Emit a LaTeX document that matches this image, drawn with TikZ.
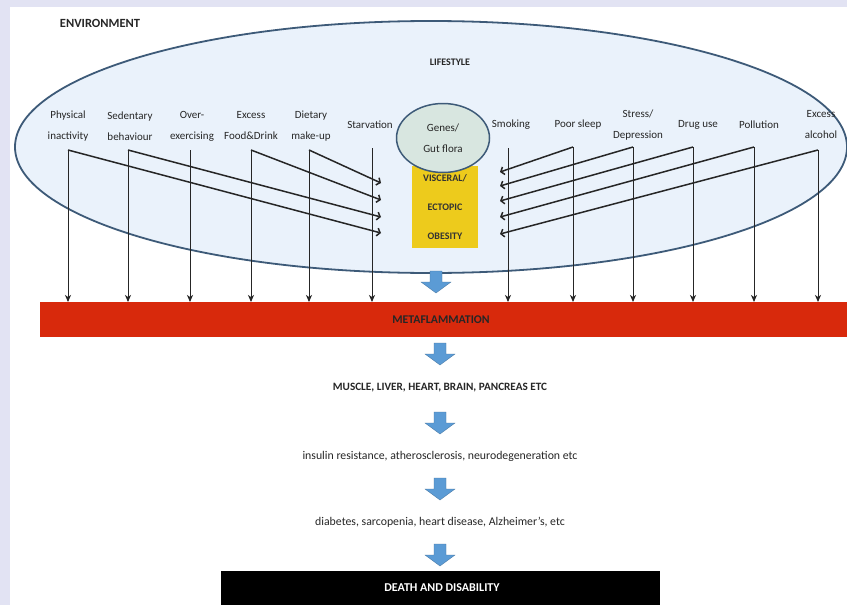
\documentclass[tikz,border=0pt]{standalone}
\usepackage{fontspec}
\setmainfont{Carlito}
\usetikzlibrary{arrows.meta,shapes.geometric,calc}
\definecolor{lav}{HTML}{E2E3F3}
\definecolor{ellfill}{HTML}{EAF2FB}
\definecolor{ellline}{HTML}{3D5A78}
\definecolor{genefill}{HTML}{D8E6E0}
\definecolor{yel}{HTML}{EDCB1C}
\definecolor{redbar}{HTML}{D8290C}
\definecolor{blarr}{HTML}{5B9BD5}
\tikzset{
  lab/.style={font=\fontsize{11}{21}\selectfont, align=center, text=black!85, inner sep=0pt},
  head/.style={font=\bfseries\fontsize{10}{12}\selectfont, text=black!85, inner sep=0pt},
  flow/.style={font=\fontsize{11.8}{13}\selectfont, text=black!85, inner sep=0pt},
  varr/.style={draw=black!85, line width=0.9pt, -{Stealth[length=7pt,width=6pt,inset=2pt]}},
  darr/.style={draw=black!85, line width=1.5pt, -{Straight Barb[length=3pt,width=8pt]}},
  blockarrow/.pic={\fill[blarr, draw=blarr!75!black, line width=0.3pt]
     (-6,-11) -- (6,-11) -- (6,0) -- (15,0) -- (0,11) -- (-15,0) -- (-6,0) -- cycle;}
}
\begin{document}
\begin{tikzpicture}[x=1pt,y=-1pt]
\useasboundingbox (0,0) rectangle (847,605);
\fill[lav] (0,0) rectangle (847,605);
\fill[white] (10,7) rectangle (847,605);

\node[head, font=\bfseries\fontsize{12.5}{14}\selectfont] (env) at (100,23) {ENVIRONMENT};

% lifestyle ellipse
\node[ellipse, draw=ellline, fill=ellfill, line width=1.8pt, inner sep=0pt,
      minimum width=832pt, minimum height=252pt] (life) at (431,147) {};
\node[head] (lifestyle) at (450,62) {LIFESTYLE};

% obesity box and genes
\node[fill=yel, minimum width=66pt, minimum height=82pt, inner sep=0pt,
      font=\bfseries\fontsize{10}{29}\selectfont, text=black!80, align=center] (obes) at (445,207)
      {VISCERAL/\\ECTOPIC\\OBESITY};
\node[ellipse, draw=ellline, fill=genefill, line width=1.5pt, inner sep=0pt,
      minimum width=93pt, minimum height=69pt, align=center,
      font=\fontsize{11}{21}\selectfont, text=black!85] (genes) at (443,138) {Genes/\\Gut flora};

% factor labels
\node[lab] (f1) at (68,126) {Physical\\inactivity};
\node[lab] (f2) at (130,126) {Sedentary\\behaviour};
\node[lab] (f3) at (192,126) {Over-\\exercising};
\node[lab] (f4) at (251,126) {Excess\\Food\&Drink};
\node[lab] (f5) at (311,126) {Dietary\\make-up};
\node[lab] (f6) at (370,125) {Starvation};
\node[lab] (f7) at (511,125) {Smoking};
\node[lab] (f8) at (578,125) {Poor sleep};
\node[lab] (f9) at (638,125) {Stress/\\Depression};
\node[lab] (f10) at (698,125) {Drug use};
\node[lab] (f11) at (759,125) {Pollution};
\node[lab] (f12) at (821,125) {Excess\\alcohol};

% red bar
\node[fill=redbar, minimum width=807pt, minimum height=35pt, inner sep=0pt, anchor=north west] (bar) at (40,302) {};
\node[head, font=\bfseries\fontsize{11.8}{13}\selectfont] (meta) at (441,320) {METAFLAMMATION};

% arrow tops
\coordinate (a1) at (68,150);
\coordinate (a2) at (128,150);
\coordinate (a3) at (190,150);
\coordinate (a4) at (251,150);
\coordinate (a5) at (309,150);
\coordinate (a6) at (372,148);
\coordinate (a7) at (508,148);
\coordinate (a8) at (573,147);
\coordinate (a9) at (633,147);
\coordinate (a10) at (693,147);
\coordinate (a11) at (754,147);
\coordinate (a12) at (818,150);

\foreach \i in {1,...,12} {\draw[varr] (a\i) -- (a\i |- bar.north);}

% diagonal arrows into obesity
\coordinate (l1) at (381,233);
\coordinate (l2) at (381,217);
\coordinate (l3) at (381,200);
\coordinate (l4) at (381,183);
\draw[darr] (a1) -- (l1);
\draw[darr] (a2) -- (l2);
\draw[darr] (a4) -- (l3);
\draw[darr] (a5) -- (l4);

\coordinate (r1) at (500,172);
\coordinate (r2) at (500,186);
\coordinate (r3) at (500,201);
\coordinate (r4) at (500,217);
\coordinate (r5) at (500,234);
\draw[darr] (a8) -- (r1);
\draw[darr] (a9) -- (r2);
\draw[darr] (a10) -- (r3);
\draw[darr] (a11) -- (r4);
\draw[darr] (a12) -- (r5);

% flow
\pic at (436,282) {blockarrow};
\pic at (440,354) {blockarrow};
\node[flow, font=\bfseries\fontsize{11.2}{13}\selectfont] (organs) at (440,388) {MUSCLE, LIVER, HEART, BRAIN, PANCREAS ETC};
\pic at (440,423) {blockarrow};
\node[flow] (mech) at (440,456) {insulin resistance, atherosclerosis, neurodegeneration etc};
\pic at (440,489) {blockarrow};
\node[flow] (dis) at (440,522) {diabetes, sarcopenia, heart disease, Alzheimer's, etc};
\pic at (440,555) {blockarrow};
\node[fill=black, minimum width=439pt, minimum height=36pt, inner sep=0pt, anchor=north west] (death) at (221,571) {};
\node[head, text=white, font=\bfseries\fontsize{12}{14}\selectfont] (deathtxt) at (442,588) {DEATH AND DISABILITY};
\end{tikzpicture}
\end{document}
